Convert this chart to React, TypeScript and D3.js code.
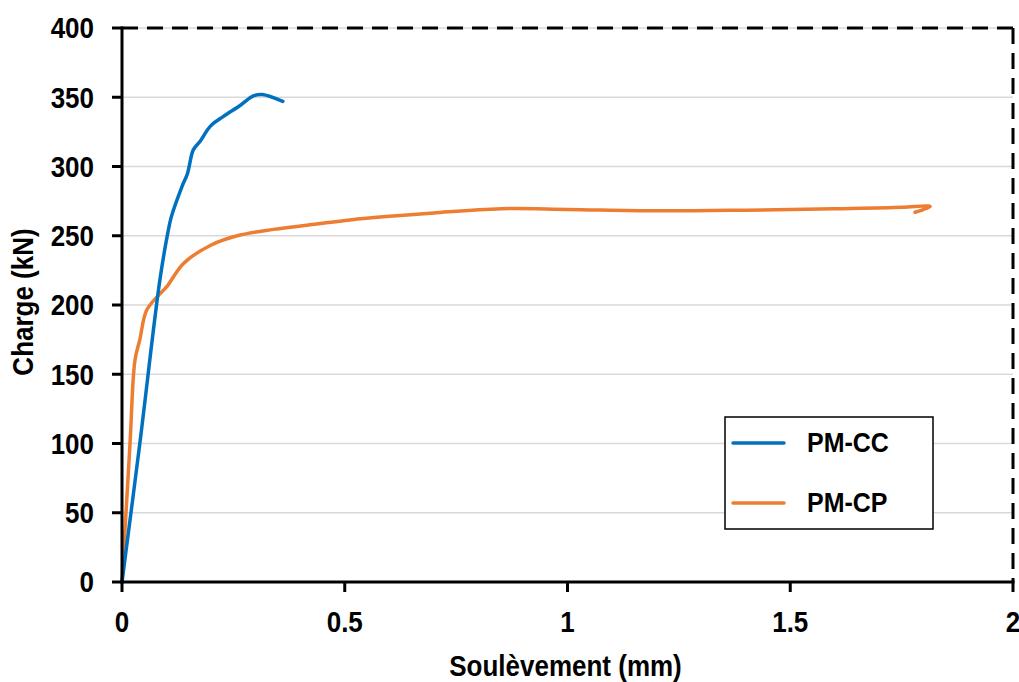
import React from "react";
import * as d3 from "d3";

const ccX = [0, 0.04, 0.085, 0.104, 0.111, 0.134, 0.147, 0.16, 0.175, 0.198, 0.227, 0.265, 0.295, 0.315, 0.361];
const ccY = [0, 100, 218, 254, 264, 285, 295, 312, 318, 329, 336, 344, 351, 352, 347];

const cpX = [0, 0.018, 0.029, 0.04, 0.055, 0.082, 0.1, 0.138, 0.198, 0.265, 0.34, 0.437, 0.512, 0.6, 0.7, 0.85, 1.0, 1.2, 1.4, 1.6, 1.75, 1.81, 1.814, 1.78];
const cpY = [0, 100, 160, 175, 196, 207, 213, 230, 243, 250.5, 254.6, 258.5, 261.4, 264, 266.5, 269.5, 269, 268, 268.5, 269.5, 270.5, 271.5, 271, 267];

const xTicks = [0, 0.5, 1, 1.5, 2];
const yTicks = [0, 50, 100, 150, 200, 250, 300, 350, 400];
const seriesNames = ["PM-CC", "PM-CP"];
const seriesColors = ["#0070c0", "#ed7d31"];

const W = 1019, H = 682;
const L = 122, R = 1013, T = 28, B = 582;
const FONT = "'Liberation Sans', Arial, sans-serif";
const SY = 1.12;

function Label({ x, y, anchor, size, rotate, children }: { x: number; y: number; anchor: string; size: number; rotate?: number; children: React.ReactNode }) {
  const tr = rotate ? `translate(${x},${y}) rotate(${rotate}) scale(1,${SY})` : `translate(${x},${y}) scale(1,${SY})`;
  return (
    <text transform={tr} dy="0.36em" textAnchor={anchor} fontSize={size} fontWeight="bold" fill="#000">{children}</text>
  );
}

export default function App() {
  const x = d3.scaleLinear().domain([0, 2]).range([L, R]);
  const y = d3.scaleLinear().domain([0, 400]).range([B, T]);
  const line = d3.line<[number, number]>().x(d => x(d[0])).y(d => y(d[1])).curve(d3.curveCatmullRom.alpha(0.5));
  const cc = ccX.map((v, i) => [v, ccY[i]] as [number, number]);
  const cp = cpX.map((v, i) => [v, cpY[i]] as [number, number]);

  return (
    <svg width={W} height={H} style={{ position: "absolute", left: 0, top: 0, background: "#fff" }} fontFamily={FONT}>
      <rect x={0} y={0} width={W} height={H} fill="#fff" />
      {yTicks.filter(t => t > 0).map(t => (
        <line key={"g" + t} x1={L} x2={R} y1={y(t)} y2={y(t)} stroke="#d9d9d9" strokeWidth={1.5} />
      ))}
      <line x1={L} x2={R} y1={T} y2={T} stroke="#000" strokeWidth={3} strokeDasharray="16 9" />
      <line x1={R} x2={R} y1={T} y2={B} stroke="#000" strokeWidth={3} strokeDasharray="16 9" />
      <path d={line(cp) || ""} fill="none" stroke={seriesColors[1]} strokeWidth={3.5} strokeLinejoin="round" strokeLinecap="round" />
      <path d={line(cc) || ""} fill="none" stroke={seriesColors[0]} strokeWidth={3.5} strokeLinejoin="round" strokeLinecap="round" />
      <line x1={L} x2={L} y1={T - 1.5} y2={B + 1.5} stroke="#000" strokeWidth={3} />
      <line x1={L - 1.5} x2={R + 1.5} y1={B} y2={B} stroke="#000" strokeWidth={3} />
      {yTicks.map(t => (
        <g key={"y" + t}>
          <line x1={L - 10} x2={L} y1={y(t)} y2={y(t)} stroke="#000" strokeWidth={3} />
          <Label x={94} y={y(t)} anchor="end" size={26}>{t}</Label>
        </g>
      ))}
      {xTicks.map(t => (
        <g key={"x" + t}>
          <line x1={x(t)} x2={x(t)} y1={B} y2={B + 10} stroke="#000" strokeWidth={3} />
          <Label x={x(t)} y={622} anchor="middle" size={26}>{t}</Label>
        </g>
      ))}
      <Label x={(L + R) / 2 - 2} y={666} anchor="middle" size={26}>Soulèvement (mm)</Label>
      <Label x={23} y={302} anchor="middle" size={26} rotate={-90}>Charge (kN)</Label>
      <rect x={725} y={417} width={208} height={112} fill="#fff" stroke="#000" strokeWidth={1.5} />
      {seriesNames.map((n, i) => (
        <g key={n}>
          <line x1={733} x2={784} y1={443 + i * 60} y2={443 + i * 60} stroke={seriesColors[i]} strokeWidth={3.5} strokeLinecap="round" />
          <Label x={807} y={442 + i * 60} anchor="start" size={25}>{n}</Label>
        </g>
      ))}
    </svg>
  );
}
